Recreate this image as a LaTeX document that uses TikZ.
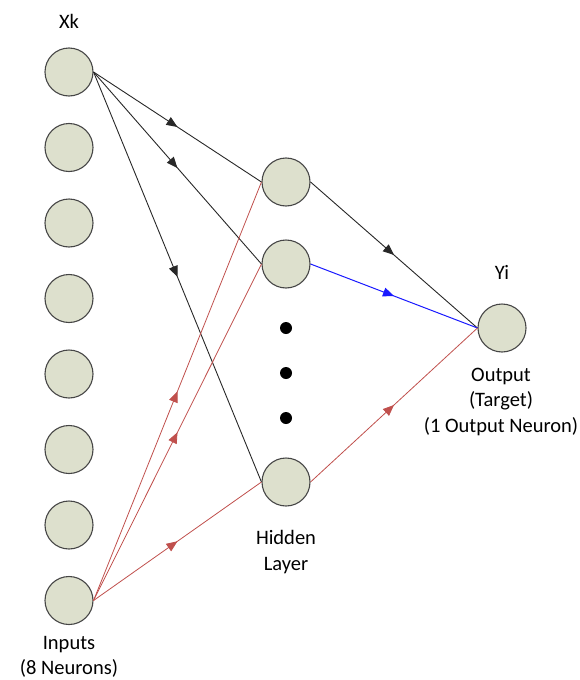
\documentclass[tikz,border=0pt]{standalone}
\usepackage{fontspec}
\setmainfont{Carlito}
\usetikzlibrary{arrows.meta,positioning,decorations.markings}
\definecolor{neuronfill}{RGB}{221,224,205}
\definecolor{neurondraw}{RGB}{70,70,70}
\definecolor{inred}{RGB}{192,80,77}
\definecolor{outblue}{RGB}{25,25,255}

\begin{document}
\begin{tikzpicture}[x=1pt,y=1pt,node distance=75.5pt,
            neuron/.style={circle,draw=neurondraw,fill=neuronfill,line width=1.1pt,
                minimum size=48pt,inner sep=0pt},
            dot/.style={circle,fill=black,minimum size=12pt,inner sep=0pt},
            txt/.style={font=\fontsize{20.5}{25.5}\selectfont,align=center,inner sep=0pt},
            mid/.style={postaction={decorate},decoration={markings,
                mark=at position 0.5 with {\arrow{Triangle[length=11pt,width=9pt]}}}},
            wblack/.style={draw={rgb,255:red,40;green,40;blue,40},line width=0.9pt,mid},
            wred/.style={draw=inred,line width=0.8pt,mid},
            wblue/.style={draw=outblue,line width=1pt,mid}]
            \useasboundingbox (0,0) rectangle (579,-680);

            % input layer
            \node[neuron] (x_1) at (69,-72) {};
            \node[neuron] (x_2) [below of=x_1] {};
            \node[neuron] (x_3) [below of=x_2] {};
            \node[neuron] (x_4) [below of=x_3] {};
            \node[neuron] (x_5) [below of=x_4] {};
            \node[neuron] (x_6) [below of=x_5] {};
            \node[neuron] (x_7) [below of=x_6] {};
            \node[neuron] (x_8) [below of=x_7] {};

            % hidden layer
            \node[neuron] (h_1) at (286,-182) {};
            \node[neuron] (h_2) [below of=h_1,node distance=82pt] {};
            \node[dot] (d_1) at (286,-328) {};
            \node[dot] (d_2) [below of=d_1,node distance=45pt] {};
            \node[dot] (d_3) [below of=d_2,node distance=45pt] {};
            \node[neuron] (h_n) at (286,-482) {};

            % output layer
            \node[neuron] (y_i) at (502,-328) {};

            % labels
            \node[txt] (xk_lbl) [above=19pt of x_1] {Xk};
            \node[txt] (yi_lbl) [above=24pt of y_i] {Yi};
            \node[txt] (in_lbl) [below=11pt of x_8] {Inputs\\(8 Neurons)};
            \node[txt] (hid_lbl) [below=24pt of h_n] {Hidden\\Layer};
            \node[txt] (out_lbl) [below=15pt of y_i,xshift=-1pt] {Output\\(Target)\\(1 Output Neuron)};

            \path
                % from x_1
                (x_1.east) edge [wblack] (h_1.west)
                (x_1.east) edge [wblack] (h_2.west)
                (x_1.east) edge [wblack] (h_n.west)

                % from x_8
                (x_8.east) edge [wred]   (h_1.west)
                (x_8.east) edge [wred]   (h_2.west)
                (x_8.east) edge [wred]   (h_n.west)

                % to y_i
                (h_1.east) edge [wblack] (y_i.west)
                (h_2.east) edge [wblue]  (y_i.west)
                (h_n.east) edge [wred]   (y_i.west)
                ;
\end{tikzpicture}
\end{document}
